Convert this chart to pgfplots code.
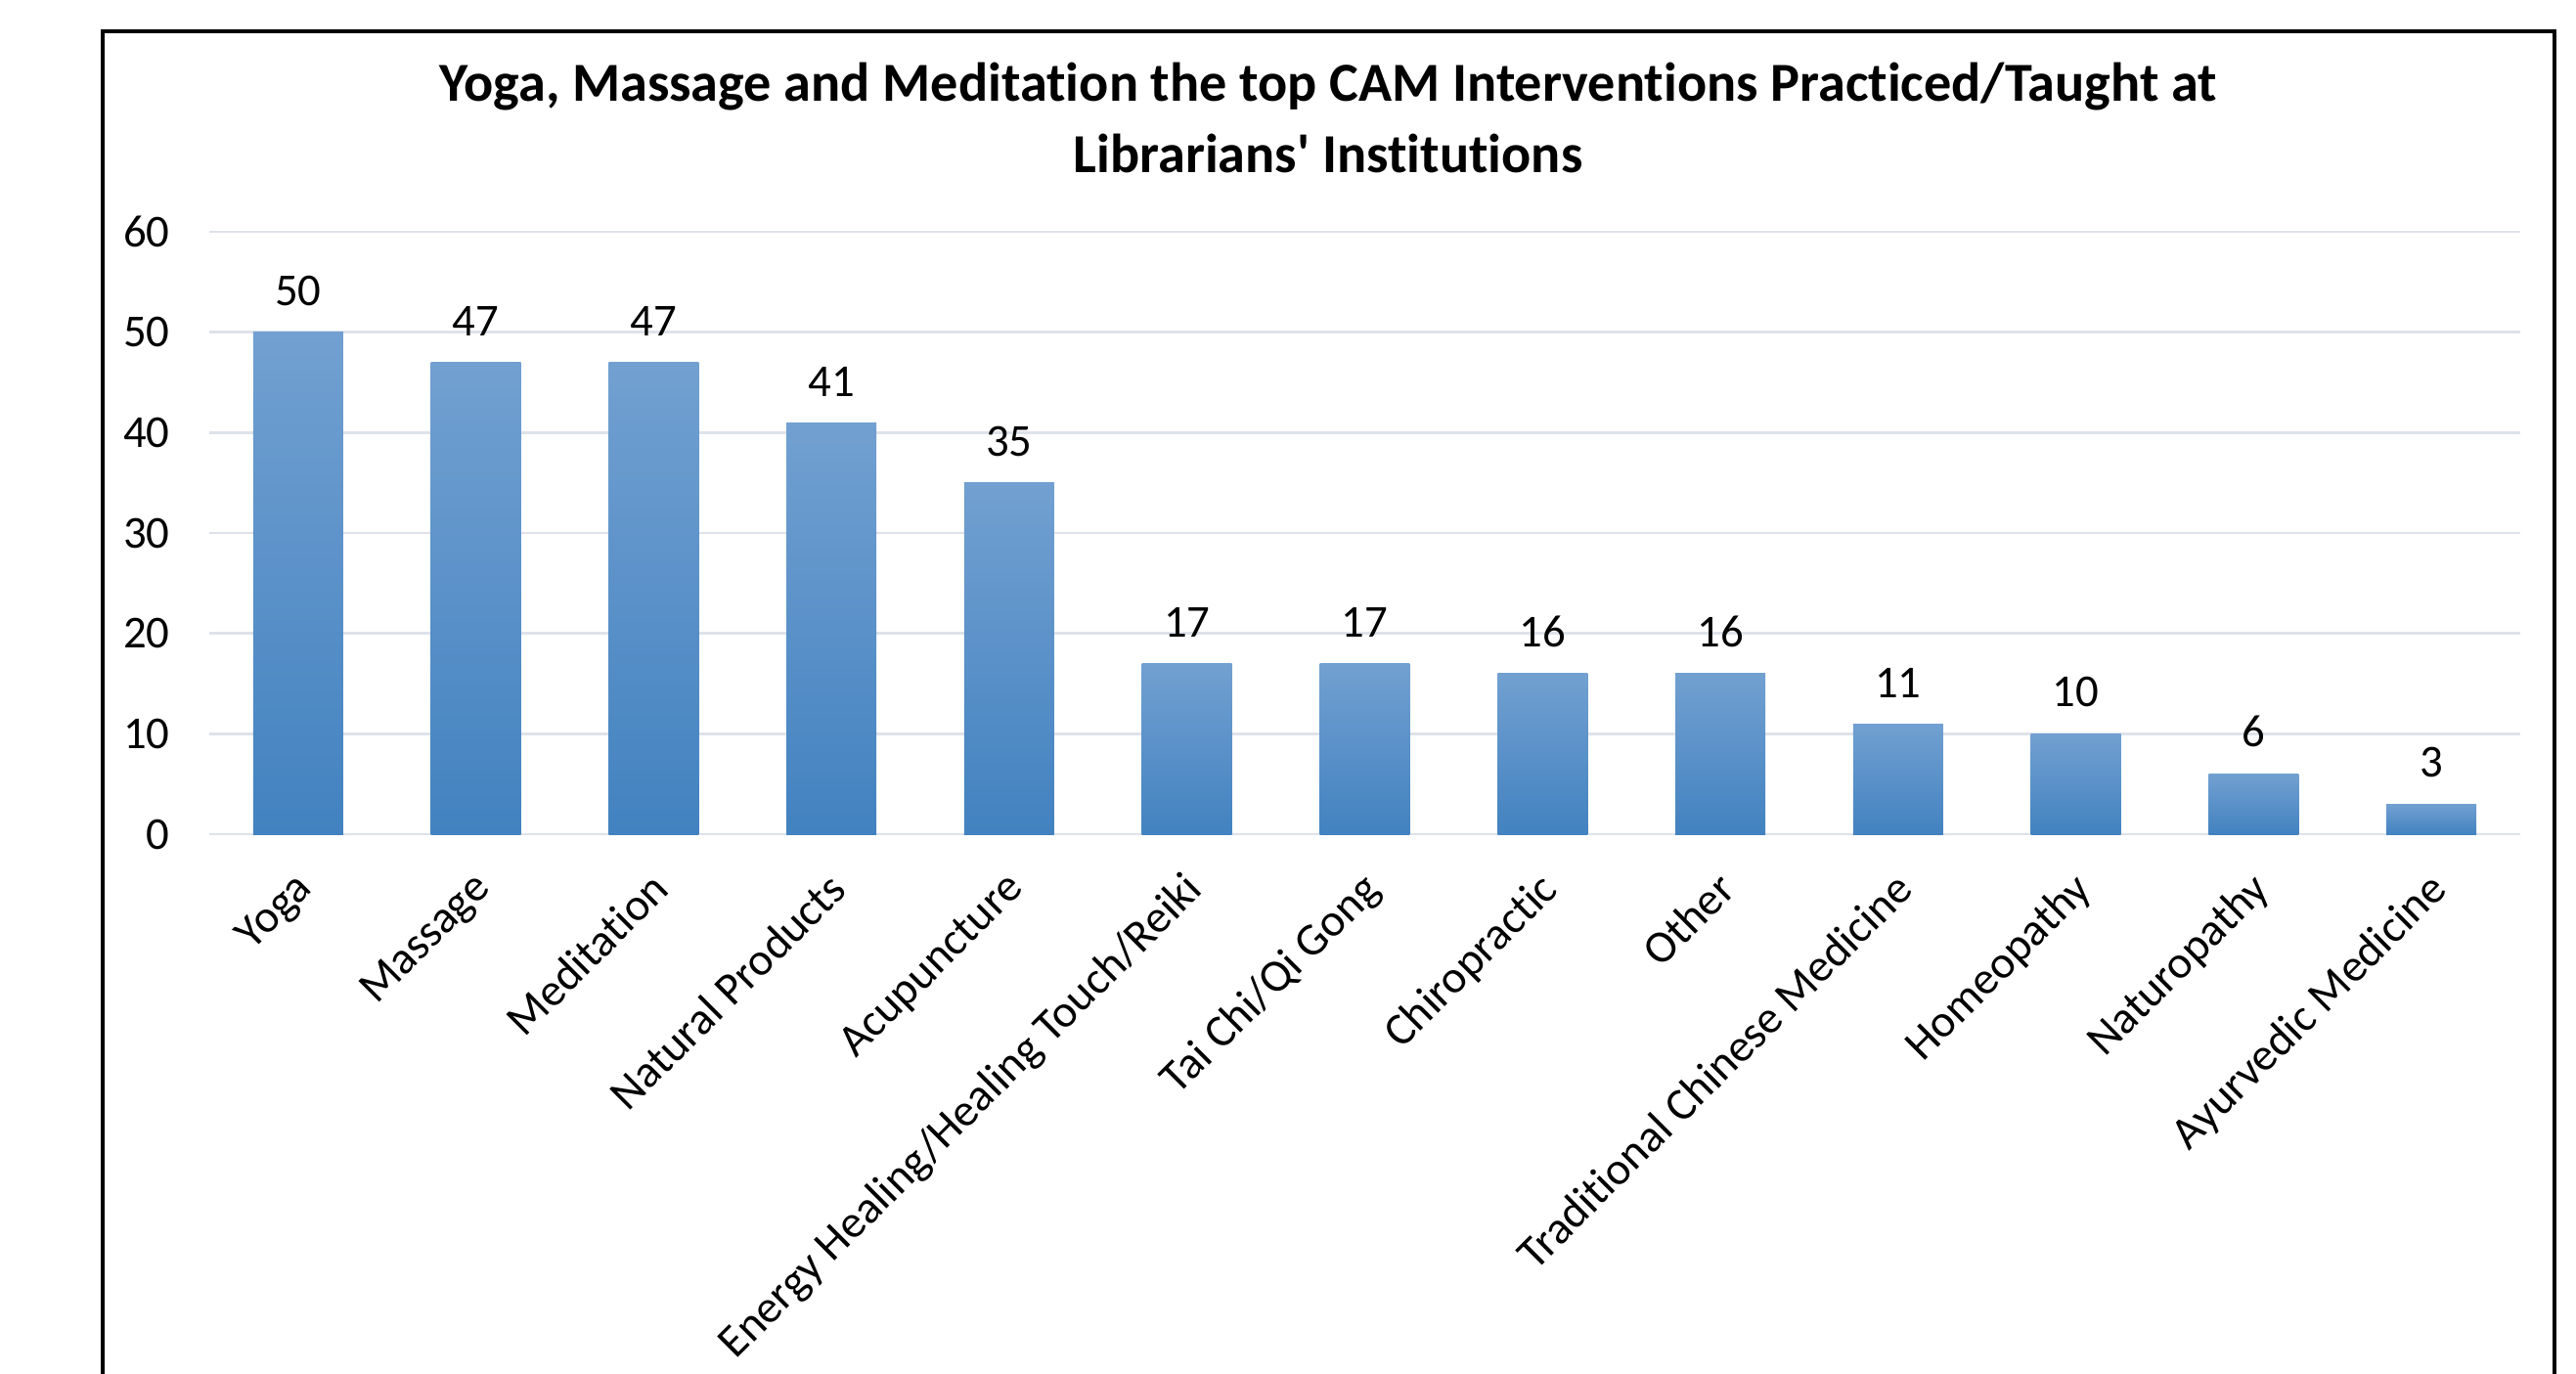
\documentclass[border=0pt]{standalone}
\usepackage{pgfplots}
\pgfplotsset{compat=1.18}
\usepackage{fontspec}
\setmainfont{Carlito}[Ligatures={TeX,NoCommon}]
\definecolor{gridc}{RGB}{222,226,234}
\definecolor{bartop}{RGB}{114,160,209}
\definecolor{barbot}{RGB}{66,130,192}
\pgfplotsset{mybar/.style={ybar, bar width=0.506, bar shift=0pt, draw=none, top color=bartop, bottom color=barbot}}
\begin{document}
\begin{tikzpicture}
\draw[line width=0.9pt] (1.05,-0.6) rectangle (26.12,13.73);
\node[font=\bfseries\fontsize{16}{19}\selectfont, anchor=base, inner sep=0pt] at (13.58,13.01) {Yoga, Massage and Meditation the top CAM Interventions Practiced/Taught at};
\node[font=\bfseries\fontsize{16}{19}\selectfont, anchor=base, inner sep=0pt] at (13.58,12.28) {Librarians\textquotesingle\ Institutions};
\begin{axis}[
  at={(2.14cm,5.52cm)}, anchor=south west,
  scale only axis, width=23.63cm, height=6.16cm,
  xmin=-0.5, xmax=12.5, ymin=0, ymax=60,
  ytick={0,10,...,60},
  xtick={0,...,12},
  xticklabels={Yoga,Massage,Meditation,Natural Products,Acupuncture,Energy Healing/Healing Touch/Reiki,Tai Chi/Qi Gong,Chiropractic,Other,Traditional Chinese Medicine,Homeopathy,Naturopathy,Ayurvedic Medicine},
  /pgf/number format/assume math mode=true,
  ymajorgrids, grid style={gridc, line width=0.7pt},
  axis line style={draw=none}, tick style={draw=none},
  yticklabel style={font=\fontsize{13.3}{15}\selectfont, xshift=-8pt},
  xticklabel style={font=\fontsize{13.3}{15}\selectfont, xshift=-1.5pt, yshift=-10pt, rotate=45, anchor=north east, inner sep=0pt},
  nodes near coords,
  nodes near coords style={font=\fontsize{13.3}{15}\selectfont, inner sep=0pt, anchor=south, yshift=7.5pt, black},
]
\addplot[mybar] coordinates {(0,50)};
\addplot[mybar] coordinates {(1,47)};
\addplot[mybar] coordinates {(2,47)};
\addplot[mybar] coordinates {(3,41)};
\addplot[mybar] coordinates {(4,35)};
\addplot[mybar] coordinates {(5,17)};
\addplot[mybar] coordinates {(6,17)};
\addplot[mybar] coordinates {(7,16)};
\addplot[mybar] coordinates {(8,16)};
\addplot[mybar] coordinates {(9,11)};
\addplot[mybar] coordinates {(10,10)};
\addplot[mybar] coordinates {(11,6)};
\addplot[mybar] coordinates {(12,3)};
\end{axis}
\pgfresetboundingbox
\useasboundingbox (0,0) rectangle (26.34,14.05);
\end{tikzpicture}
\end{document}
